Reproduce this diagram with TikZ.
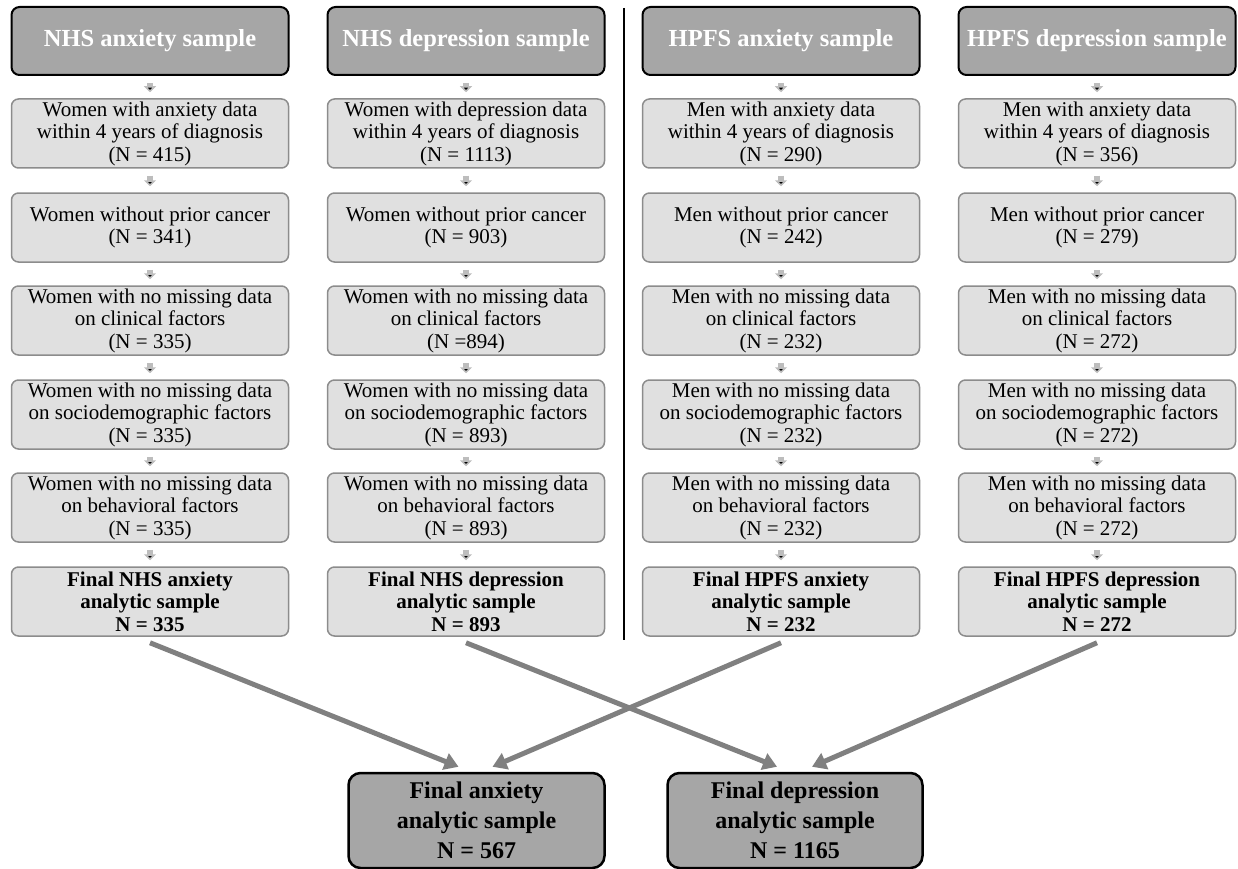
\documentclass[tikz,border=0pt]{standalone}
\usepackage{fontspec}
\setmainfont{Liberation Serif}
\usetikzlibrary{arrows.meta}
\definecolor{headgray}{HTML}{A6A6A6}
\definecolor{boxgray}{HTML}{E0E0E0}
\definecolor{rimgray}{HTML}{8C8C8C}
\definecolor{arrowgray}{HTML}{808080}
\definecolor{stepgray}{HTML}{BDBDBD}

\begin{document}
\begin{tikzpicture}[x=1pt, y=-1pt, line width=1pt,
  header/.style={draw=black, line width=2pt, fill=headgray, rounded corners=8pt,
    minimum width=277pt, minimum height=68pt, inner sep=0pt, text=white,
    font=\fontsize{24.5}{27}\selectfont\bfseries},
  stage/.style={draw=rimgray, line width=1.5pt, fill=boxgray, rounded corners=7pt,
    minimum width=277pt, minimum height=69pt, inner sep=0pt, align=center,
    font=\fontsize{21}{22.5}\selectfont},
  final/.style={stage, font=\fontsize{21}{22.5}\selectfont\bfseries},
  pooled/.style={draw=black, line width=2.5pt, fill=headgray, rounded corners=12pt,
    minimum height=95pt, inner sep=0pt, align=center,
    font=\fontsize{24}{30}\selectfont\bfseries},
  stepline/.style={draw=stepgray, line width=6pt, shorten <=7pt, shorten >=6pt,
    -{Triangle[width=12pt,length=6pt]}},
  joinline/.style={draw=arrowgray, line width=5pt,
    -{Triangle[width=17pt,length=14pt]}}]
\useasboundingbox (0,0) rectangle (1238,869);

%% column NHS anxiety
\begin{scope}
\node[header] (h1) at (150,41) {NHS anxiety sample};
\node[stage] (a1) at (150,133.5) {Women with anxiety data\\within 4 years of diagnosis\\(N = 415)};
\node[stage] (b1) at (150,227.5) {Women without prior cancer\\(N = 341)};
\node[stage] (c1) at (150,320.5) {Women with no missing data\\on clinical factors\\(N = 335)};
\node[stage] (d1) at (150,414.5) {Women with no missing data\\on sociodemographic factors\\(N = 335)};
\node[stage] (e1) at (150,507.5) {Women with no missing data\\on behavioral factors\\(N = 335)};
\node[final] (f1) at (150,601.5) {Final NHS anxiety\\analytic sample\\N = 335};
\draw[stepline] (h1) edge (a1) (a1) edge (b1) (b1) edge (c1) (c1) edge (d1) (d1) edge (e1) (e1) edge (f1);
\end{scope}

%% column NHS depression
\begin{scope}
\node[header] (h2) at (466,41) {NHS depression sample};
\node[stage] (a2) at (466,133.5) {Women with depression data\\within 4 years of diagnosis\\(N = 1113)};
\node[stage] (b2) at (466,227.5) {Women without prior cancer\\(N = 903)};
\node[stage] (c2) at (466,320.5) {Women with no missing data\\on clinical factors\\(N =894)};
\node[stage] (d2) at (466,414.5) {Women with no missing data\\on sociodemographic factors\\(N = 893)};
\node[stage] (e2) at (466,507.5) {Women with no missing data\\on behavioral factors\\(N = 893)};
\node[final] (f2) at (466,601.5) {Final NHS depression\\analytic sample\\N = 893};
\draw[stepline] (h2) edge (a2) (a2) edge (b2) (b2) edge (c2) (c2) edge (d2) (d2) edge (e2) (e2) edge (f2);
\end{scope}

%% divider
\coordinate (top) at (624,8) ;
\coordinate (bottom) at (624,640) ;
\draw[black, line width=1.2pt] (top) -- (bottom) ;

%% column HPFS anxiety
\begin{scope}
\node[header] (h3) at (781,41) {HPFS anxiety sample};
\node[stage] (a3) at (781,133.5) {Men with anxiety data\\within 4 years of diagnosis\\(N = 290)};
\node[stage] (b3) at (781,227.5) {Men without prior cancer\\(N = 242)};
\node[stage] (c3) at (781,320.5) {Men with no missing data\\on clinical factors\\(N = 232)};
\node[stage] (d3) at (781,414.5) {Men with no missing data\\on sociodemographic factors\\(N = 232)};
\node[stage] (e3) at (781,507.5) {Men with no missing data\\on behavioral factors\\(N = 232)};
\node[final] (f3) at (781,601.5) {Final HPFS anxiety\\analytic sample\\N = 232};
\draw[stepline] (h3) edge (a3) (a3) edge (b3) (b3) edge (c3) (c3) edge (d3) (d3) edge (e3) (e3) edge (f3);
\end{scope}

%% column HPFS depression
\begin{scope}
\node[header] (h4) at (1097,41) {HPFS depression sample};
\node[stage] (a4) at (1097,133.5) {Men with anxiety data\\within 4 years of diagnosis\\(N = 356)};
\node[stage] (b4) at (1097,227.5) {Men without prior cancer\\(N = 279)};
\node[stage] (c4) at (1097,320.5) {Men with no missing data\\on clinical factors\\(N = 272)};
\node[stage] (d4) at (1097,414.5) {Men with no missing data\\on sociodemographic factors\\(N = 272)};
\node[stage] (e4) at (1097,507.5) {Men with no missing data\\on behavioral factors\\(N = 272)};
\node[final] (f4) at (1097,601.5) {Final HPFS depression\\analytic sample\\N = 272};
\draw[stepline] (h4) edge (a4) (a4) edge (b4) (b4) edge (c4) (c4) edge (d4) (d4) edge (e4) (e4) edge (f4);
\end{scope}

%% pooled samples
\node[pooled, minimum width=256pt] (anx) at (476.5,820.5) {Final anxiety\\analytic sample\\N = 567};
\node[pooled, minimum width=255pt] (dep) at (795,820.5) {Final depression\\analytic sample\\N = 1165};

\draw[joinline] ([yshift=-6pt]f1.south) -- ([xshift=-18pt,yshift=5pt]anx.north);
\draw[joinline] ([yshift=-6pt]f3.south) -- ([xshift=16pt,yshift=5pt]anx.north);
\draw[joinline] ([yshift=-6pt]f2.south) -- ([xshift=-18pt,yshift=5pt]dep.north);
\draw[joinline] ([yshift=-6pt]f4.south) -- ([xshift=17pt,yshift=5pt]dep.north);
\end{tikzpicture}
\end{document}
